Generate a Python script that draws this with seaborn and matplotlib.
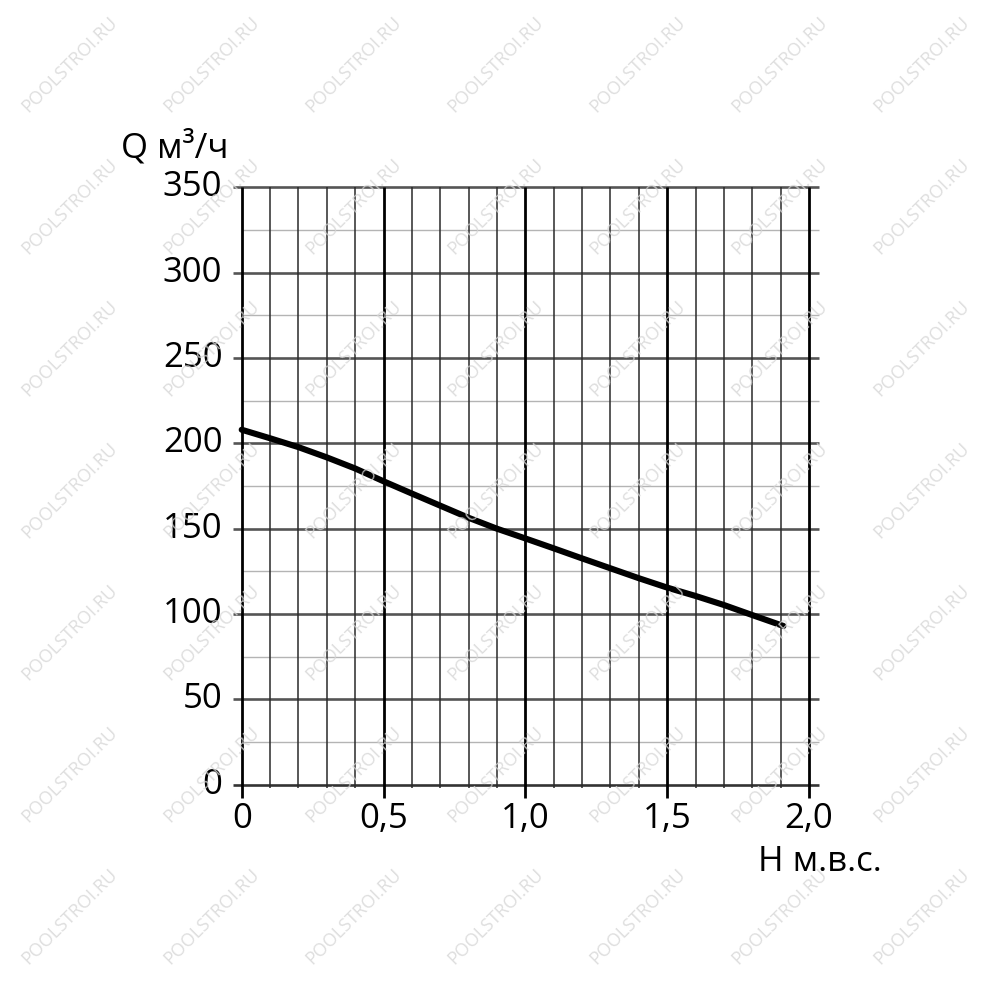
import numpy as np
import pandas as pd
import matplotlib
matplotlib.use('Agg')
import matplotlib.pyplot as plt
import seaborn as sns

# pump curve Q(H)
head = [0, 0.1, 0.2, 0.3, 0.4, 0.5, 0.6, 0.7, 0.8, 0.9, 1.0,
        1.1, 1.2, 1.3, 1.4, 1.5, 1.6, 1.7, 1.8, 1.91]
flow = [208, 203, 197.8, 191.8, 185.3, 177.8, 170.6, 163.5, 156.4, 150, 144.3,
        138.5, 132.6, 126.8, 121, 115.5, 110.6, 105.3, 99.4, 93]

x_ticks = [0, 0.5, 1.0, 1.5, 2.0]
x_labels = ['0', '0,5', '1,0', '1,5', '2,0']
y_ticks = [0, 50, 100, 150, 200, 250, 300, 350]
watermark = 'POOLSTROI.RU'

sns.set_style('white')
plt.rcParams['font.family'] = ['Open Sans', 'DejaVu Sans']
plt.rcParams['text.color'] = 'black'

fig = plt.figure(figsize=(10, 10), dpi=100)
ax = fig.add_axes([0.2417, 0.2153, 0.5673, 0.5973])
ax.set_xlim(0, 2.0)
ax.set_ylim(0, 350)
for s in ax.spines.values():
    s.set_visible(False)
ax.set_xticks([])
ax.set_yticks([])

# horizontal grid
for v in np.arange(25, 350, 50):
    ax.hlines(v, 0, 2.035, color='#b4b4b4', lw=1.0, clip_on=False, zorder=1)
for v in y_ticks:
    c = '#333333' if v == 0 else '#555555'
    ax.hlines(v, -0.03, 2.035, color=c, lw=1.9, clip_on=False, zorder=2)

# vertical grid
for i in range(21):
    v = i / 10
    if i % 5 == 0:
        ax.vlines(v, -8, 350, color='black', lw=2.0, clip_on=False, zorder=3)
    else:
        ax.vlines(v, -2, 350, color='#2a2a2a', lw=1.1, clip_on=False, zorder=3)

df = pd.DataFrame({'H': head, 'Q': flow})
sns.lineplot(data=df, x='H', y='Q', color='black', linewidth=4.4, ax=ax,
             zorder=5, clip_on=False)
ax.set_xlabel('')
ax.set_ylabel('')

for v in y_ticks:
    ax.text(-0.068, v, str(v), ha='right', va='center', fontsize=25,
            color='black')
for v, lab in zip(x_ticks, x_labels):
    ax.text(v, -10, lab, ha='center', va='top', fontsize=25, color='black')

fig.text(0.175, 0.852, 'Q м³/ч', ha='center', va='center', fontsize=25)
fig.text(0.820, 0.138, 'H м.в.с.', ha='center', va='center', fontsize=25)

# watermark grid
for i in range(7):
    for j in range(7):
        fig.text((70 + 142 * i) / 1000, 1 - (65 + 142 * j) / 1000, watermark,
                 rotation=45, ha='center', va='center', fontsize=13,
                 color='#d6d6d6', alpha=0.8, zorder=10)

fig.savefig('out.png', dpi=100)
